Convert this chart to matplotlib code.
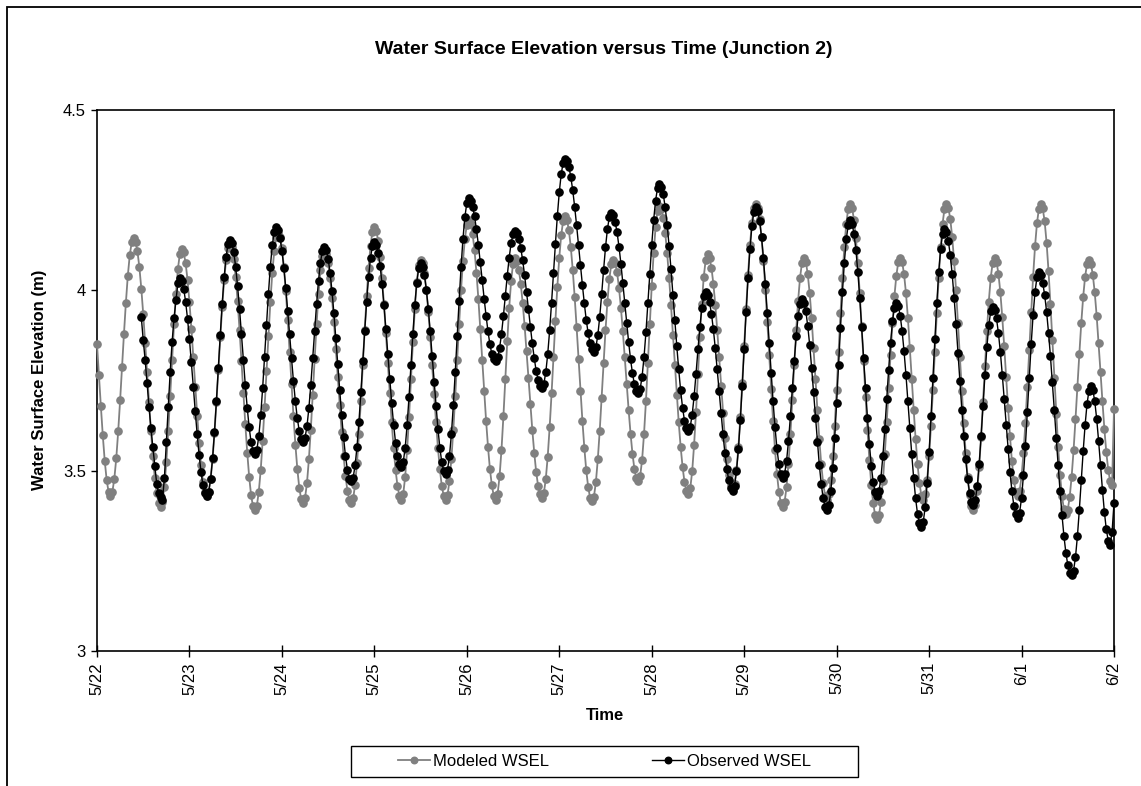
import matplotlib
matplotlib.use("Agg")
import matplotlib.pyplot as plt
import pandas as pd
from matplotlib.patches import Rectangle

# ---------------- data (30-minute water surface elevation, m) ----------------
modeled_start = "2007-05-22 00:00"
observed_start = "2007-05-22 11:30"

modeled_wsel = [
    3.851, 3.765, 3.679, 3.598, 3.528, 3.475, 3.441, 3.430, 3.442, 3.478, 3.534, 3.609,
    3.695, 3.788, 3.880, 3.966, 4.041, 4.097, 4.133, 4.145, 4.135, 4.108, 4.064, 4.005,
    3.934, 3.855, 3.773, 3.690, 3.611, 3.540, 3.481, 3.437, 3.410, 3.400, 3.414, 3.456,
    3.524, 3.609, 3.707, 3.808, 3.906, 3.991, 4.059, 4.101, 4.115, 4.105, 4.076, 4.029,
    3.967, 3.894, 3.814, 3.731, 3.651, 3.578, 3.516, 3.469, 3.440, 3.430, 3.442, 3.477,
    3.532, 3.605, 3.690, 3.780, 3.870, 3.955, 4.028, 4.083, 4.118, 4.130, 4.119, 4.088,
    4.037, 3.970, 3.891, 3.804, 3.716, 3.629, 3.550, 3.483, 3.432, 3.401, 3.390, 3.403,
    3.442, 3.502, 3.583, 3.676, 3.775, 3.874, 3.968, 4.048, 4.108, 4.147, 4.160, 4.149,
    4.117, 4.066, 3.998, 3.918, 3.830, 3.740, 3.652, 3.572, 3.505, 3.453, 3.421, 3.410,
    3.424, 3.465, 3.531, 3.614, 3.710, 3.810, 3.906, 3.989, 4.055, 4.096, 4.110, 4.101,
    4.075, 4.034, 3.978, 3.912, 3.838, 3.760, 3.682, 3.608, 3.542, 3.486, 3.445, 3.419,
    3.410, 3.423, 3.461, 3.522, 3.601, 3.694, 3.793, 3.891, 3.984, 4.063, 4.124, 4.162,
    4.175, 4.165, 4.137, 4.093, 4.033, 3.961, 3.881, 3.798, 3.714, 3.634, 3.562, 3.502,
    3.458, 3.430, 3.420, 3.436, 3.483, 3.557, 3.649, 3.753, 3.856, 3.948, 4.022, 4.069,
    4.085, 4.075, 4.047, 4.001, 3.941, 3.870, 3.792, 3.713, 3.635, 3.564, 3.504, 3.458,
    3.430, 3.420, 3.433, 3.472, 3.533, 3.614, 3.708, 3.808, 3.907, 4.001, 4.082, 4.143,
    4.182, 4.195, 4.185, 4.156, 4.111, 4.049, 3.976, 3.894, 3.808, 3.721, 3.639, 3.566,
    3.504, 3.459, 3.430, 3.420, 3.436, 3.484, 3.558, 3.651, 3.755, 3.859, 3.952, 4.026,
    4.074, 4.090, 4.081, 4.057, 4.018, 3.965, 3.902, 3.831, 3.758, 3.684, 3.613, 3.550,
    3.497, 3.458, 3.434, 3.425, 3.438, 3.477, 3.539, 3.620, 3.714, 3.815, 3.916, 4.010,
    4.091, 4.153, 4.192, 4.205, 4.195, 4.166, 4.119, 4.056, 3.981, 3.898, 3.810, 3.722,
    3.639, 3.564, 3.501, 3.455, 3.425, 3.415, 3.428, 3.468, 3.531, 3.611, 3.702, 3.798,
    3.889, 3.969, 4.032, 4.072, 4.085, 4.076, 4.050, 4.007, 3.952, 3.886, 3.814, 3.741,
    3.669, 3.603, 3.547, 3.505, 3.479, 3.470, 3.485, 3.530, 3.602, 3.693, 3.798, 3.907,
    4.012, 4.103, 4.175, 4.220, 4.235, 4.226, 4.201, 4.159, 4.103, 4.035, 3.959, 3.877,
    3.793, 3.711, 3.635, 3.567, 3.511, 3.469, 3.444, 3.435, 3.451, 3.498, 3.572, 3.664,
    3.768, 3.871, 3.963, 4.037, 4.084, 4.100, 4.090, 4.063, 4.018, 3.960, 3.890, 3.814,
    3.736, 3.660, 3.590, 3.532, 3.487, 3.460, 3.450, 3.463, 3.503, 3.565, 3.648, 3.743,
    3.845, 3.947, 4.043, 4.125, 4.187, 4.227, 4.240, 4.229, 4.198, 4.148, 4.082, 4.002,
    3.913, 3.820, 3.727, 3.638, 3.558, 3.492, 3.442, 3.411, 3.400, 3.414, 3.455, 3.519,
    3.601, 3.696, 3.794, 3.889, 3.971, 4.035, 4.076, 4.090, 4.079, 4.045, 3.992, 3.923,
    3.841, 3.755, 3.669, 3.588, 3.518, 3.465, 3.431, 3.420, 3.434, 3.475, 3.540, 3.625,
    3.724, 3.830, 3.936, 4.035, 4.120, 4.185, 4.226, 4.240, 4.229, 4.196, 4.145, 4.076,
    3.992, 3.900, 3.803, 3.705, 3.613, 3.530, 3.460, 3.409, 3.376, 3.365, 3.377, 3.414,
    3.471, 3.546, 3.634, 3.728, 3.821, 3.909, 3.984, 4.041, 4.078, 4.090, 4.079, 4.045,
    3.992, 3.923, 3.841, 3.755, 3.669, 3.588, 3.518, 3.465, 3.431, 3.420, 3.434, 3.475,
    3.540, 3.625, 3.724, 3.830, 3.936, 4.035, 4.120, 4.185, 4.226, 4.240, 4.229, 4.198,
    4.147, 4.080, 4.000, 3.909, 3.815, 3.721, 3.631, 3.550, 3.483, 3.433, 3.401, 3.390,
    3.404, 3.445, 3.511, 3.594, 3.690, 3.790, 3.886, 3.969, 4.035, 4.076, 4.090, 4.079,
    4.046, 3.994, 3.925, 3.845, 3.760, 3.675, 3.595, 3.526, 3.474, 3.441, 3.430, 3.444,
    3.484, 3.548, 3.633, 3.731, 3.835, 3.939, 4.038, 4.122, 4.186, 4.226, 4.240, 4.227,
    4.191, 4.132, 4.054, 3.962, 3.862, 3.758, 3.658, 3.566, 3.488, 3.429, 3.393, 3.380,
    3.392, 3.427, 3.483, 3.556, 3.642, 3.733, 3.823, 3.909, 3.982, 4.038, 4.073, 4.085,
    4.074, 4.043, 3.994, 3.929, 3.853, 3.773, 3.692, 3.616, 3.551, 3.502, 3.471, 3.460,
    3.670,
]

observed_wsel = [
    3.925, 3.862, 3.807, 3.742, 3.677, 3.617, 3.565, 3.513, 3.463, 3.437, 3.428, 3.420,
    3.480, 3.580, 3.677, 3.774, 3.858, 3.922, 3.973, 4.019, 4.035, 4.027, 4.005, 3.969,
    3.921, 3.864, 3.800, 3.733, 3.665, 3.601, 3.544, 3.496, 3.460, 3.438, 3.430, 3.442,
    3.478, 3.534, 3.608, 3.693, 3.785, 3.877, 3.963, 4.036, 4.092, 4.128, 4.140, 4.131,
    4.106, 4.065, 4.011, 3.948, 3.878, 3.807, 3.737, 3.674, 3.620, 3.579, 3.554, 3.545,
    3.558, 3.595, 3.654, 3.729, 3.815, 3.905, 3.991, 4.066, 4.125, 4.162, 4.175, 4.167,
    4.145, 4.110, 4.063, 4.007, 3.944, 3.878, 3.811, 3.748, 3.692, 3.645, 3.610, 3.588,
    3.580, 3.591, 3.623, 3.673, 3.738, 3.812, 3.888, 3.962, 4.027, 4.077, 4.109, 4.120,
    4.112, 4.088, 4.049, 3.998, 3.936, 3.867, 3.795, 3.723, 3.654, 3.592, 3.541, 3.503,
    3.478, 3.470, 3.481, 3.515, 3.567, 3.636, 3.717, 3.803, 3.888, 3.969, 4.038, 4.090,
    4.124, 4.135, 4.127, 4.104, 4.067, 4.017, 3.958, 3.892, 3.823, 3.753, 3.687, 3.628,
    3.578, 3.541, 3.518, 3.510, 3.524, 3.564, 3.626, 3.705, 3.793, 3.880, 3.959, 4.021,
    4.061, 4.075, 4.066, 4.042, 4.001, 3.949, 3.886, 3.818, 3.747, 3.679, 3.616, 3.564,
    3.523, 3.499, 3.490, 3.503, 3.541, 3.602, 3.681, 3.774, 3.873, 3.971, 4.064, 4.143,
    4.204, 4.242, 4.255, 4.249, 4.232, 4.205, 4.169, 4.126, 4.078, 4.028, 3.977, 3.929,
    3.886, 3.850, 3.823, 3.809, 3.805, 3.814, 3.839, 3.879, 3.929, 3.985, 4.041, 4.091,
    4.131, 4.156, 4.165, 4.159, 4.143, 4.118, 4.083, 4.042, 3.996, 3.948, 3.899, 3.853,
    3.812, 3.777, 3.752, 3.736, 3.730, 3.741, 3.773, 3.823, 3.889, 3.966, 4.048, 4.129,
    4.206, 4.272, 4.322, 4.354, 4.365, 4.359, 4.342, 4.314, 4.277, 4.231, 4.180, 4.125,
    4.070, 4.015, 3.964, 3.918, 3.881, 3.853, 3.836, 3.830, 3.842, 3.875, 3.926, 3.989,
    4.056, 4.119, 4.170, 4.203, 4.215, 4.209, 4.190, 4.161, 4.121, 4.074, 4.021, 3.965,
    3.910, 3.857, 3.809, 3.770, 3.740, 3.722, 3.715, 3.727, 3.761, 3.815, 3.884, 3.964,
    4.046, 4.126, 4.195, 4.249, 4.283, 4.295, 4.287, 4.266, 4.230, 4.182, 4.124, 4.059,
    3.988, 3.917, 3.846, 3.781, 3.723, 3.675, 3.639, 3.617, 3.610, 3.622, 3.655, 3.706,
    3.769, 3.836, 3.899, 3.950, 3.983, 3.995, 3.988, 3.968, 3.935, 3.892, 3.839, 3.781,
    3.720, 3.659, 3.601, 3.548, 3.505, 3.473, 3.452, 3.445, 3.458, 3.498, 3.560, 3.641,
    3.736, 3.838, 3.939, 4.034, 4.115, 4.177, 4.217, 4.230, 4.220, 4.193, 4.148, 4.089,
    4.018, 3.938, 3.855, 3.772, 3.692, 3.621, 3.562, 3.518, 3.490, 3.480, 3.492, 3.527,
    3.582, 3.651, 3.728, 3.804, 3.873, 3.928, 3.963, 3.975, 3.966, 3.942, 3.901, 3.849,
    3.786, 3.718, 3.647, 3.579, 3.516, 3.464, 3.423, 3.399, 3.390, 3.404, 3.444, 3.508,
    3.591, 3.689, 3.793, 3.896, 3.994, 4.077, 4.141, 4.181, 4.195, 4.185, 4.157, 4.112,
    4.051, 3.979, 3.897, 3.813, 3.728, 3.646, 3.574, 3.513, 3.468, 3.440, 3.430, 3.443,
    3.481, 3.540, 3.615, 3.698, 3.780, 3.855, 3.914, 3.952, 3.965, 3.956, 3.930, 3.887,
    3.831, 3.765, 3.692, 3.618, 3.545, 3.479, 3.423, 3.380, 3.354, 3.345, 3.359, 3.400,
    3.465, 3.551, 3.651, 3.758, 3.864, 3.964, 4.050, 4.115, 4.156, 4.170, 4.162, 4.137,
    4.097, 4.044, 3.979, 3.906, 3.827, 3.748, 3.669, 3.596, 3.531, 3.478, 3.438, 3.413,
    3.405, 3.418, 3.457, 3.518, 3.595, 3.680, 3.765, 3.842, 3.903, 3.942, 3.955, 3.946,
    3.922, 3.881, 3.829, 3.766, 3.698, 3.627, 3.559, 3.496, 3.444, 3.403, 3.379, 3.370,
    3.384, 3.424, 3.488, 3.569, 3.662, 3.758, 3.851, 3.932, 3.996, 4.036, 4.050, 4.043,
    4.021, 3.987, 3.941, 3.883, 3.817, 3.745, 3.669, 3.591, 3.515, 3.443, 3.377, 3.319,
    3.273, 3.239, 3.217, 3.210, 3.223, 3.260, 3.318, 3.391, 3.473, 3.554, 3.627, 3.685,
    3.722, 3.735, 3.724, 3.693, 3.644, 3.583, 3.515, 3.447, 3.386, 3.337, 3.306, 3.295,
    3.330, 3.410,
]

day_ticks = ["2007-05-22", "2007-05-23", "2007-05-24", "2007-05-25", "2007-05-26", "2007-05-27",
             "2007-05-28", "2007-05-29", "2007-05-30", "2007-05-31", "2007-06-01", "2007-06-02"]
tick_labels = ["5/22", "5/23", "5/24", "5/25", "5/26", "5/27",
               "5/28", "5/29", "5/30", "5/31", "6/1", "6/2"]
y_ticks = [3, 3.5, 4, 4.5]
y_tick_labels = ["3", "3.5", "4", "4.5"]

title = "Water Surface Elevation versus Time (Junction 2)"
xlabel = "Time"
ylabel = "Water Surface Elevation (m)"
series_names = ["Modeled WSEL", "Observed WSEL"]

# ---------------- figure ----------------
W, H = 1141, 786
plt.rcParams["font.family"] = ["Liberation Sans", "DejaVu Sans"]
fig = plt.figure(figsize=(W / 100, H / 100), dpi=100)
fig.patch.set_facecolor("white")

def fx(px):
    return px / W

def fy(py):
    return 1 - py / H

ax_l, ax_r, ax_t, ax_b = 97, 1114, 110, 651
ax = fig.add_axes([fx(ax_l), fy(ax_b), fx(ax_r - ax_l), (ax_b - ax_t) / H])

t_mod = pd.date_range(modeled_start, periods=len(modeled_wsel), freq="30min")
t_obs = pd.date_range(observed_start, periods=len(observed_wsel), freq="30min")

ax.plot(t_mod, modeled_wsel, color="#808080", lw=1.3, marker="o", ms=5.2,
        mfc="#808080", mec="#808080", label=series_names[0], clip_on=False, zorder=3)
ax.plot(t_obs, observed_wsel, color="black", lw=1.0, marker="o", ms=5.2,
        mfc="black", mec="black", label=series_names[1], clip_on=False, zorder=4)

ticks = pd.to_datetime(day_ticks)
ax.set_xlim(ticks[0], ticks[-1])
ax.set_xticks(ticks)
ax.set_xticklabels(tick_labels, rotation=90, fontsize=12)
ax.set_ylim(y_ticks[0], y_ticks[-1])
ax.set_yticks(y_ticks)
ax.set_yticklabels(y_tick_labels, fontsize=12)

ax.tick_params(axis="x", direction="inout", length=8, width=1.0, pad=4)
ax.tick_params(axis="y", direction="out", length=4, width=1.0, pad=4)
for s in ax.spines.values():
    s.set_linewidth(1.2)
    s.set_color("black")

fig.text(fx(604), fy(50), title, ha="center", va="center", fontsize=14, fontweight="bold")
fig.text(fx(605), fy(716), xlabel, ha="center", va="center", fontsize=12, fontweight="bold")
fig.text(fx(40), fy(380), ylabel, ha="center", va="center", fontsize=12,
         fontweight="bold", rotation=90)

# legend: entries centred in a fixed box
leg_l, leg_r, leg_t, leg_b = 351, 858, 746, 777
fig.add_artist(Rectangle((fx(leg_l), fy(leg_b)), fx(leg_r - leg_l), (leg_b - leg_t) / H,
                         transform=fig.transFigure, fill=False, edgecolor="black", lw=1.0))
leg = fig.legend(loc="center", ncol=2, bbox_to_anchor=(fx((leg_l + leg_r) / 2), fy((leg_t + leg_b) / 2)),
                 frameon=False, fontsize=12, handlelength=1.9, handletextpad=0.2,
                 columnspacing=6.2, borderpad=0.0, borderaxespad=0.0, markerscale=0.9)

# outer chart-area border: only its left and top edges fall inside the picture
fig.add_artist(Rectangle((fx(7), fy(820)), fx(1210 - 7), (820 - 7) / H, transform=fig.transFigure,
                         fill=False, edgecolor="black", lw=1.3))

fig.savefig("out.png", dpi=100, facecolor="white")
